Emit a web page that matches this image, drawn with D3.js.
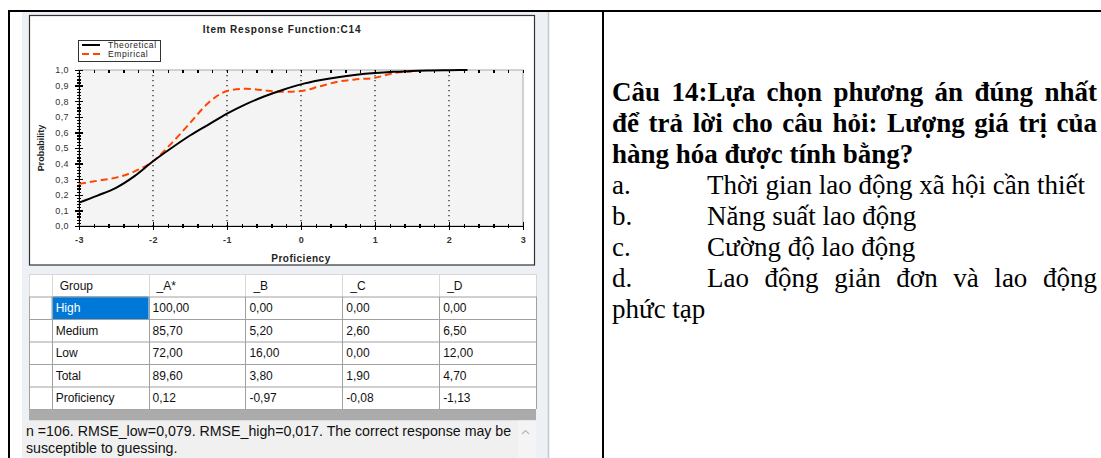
<!DOCTYPE html>
<html>
<head>
<meta charset="utf-8">
<script src="https://cdn.jsdelivr.net/npm/d3@7"></script>
<style>
  body { margin: 0; width: 1101px; height: 458px; overflow: hidden; background: #fff; position: relative; }
  svg { position: absolute; left: 0; top: 0; }
  .axis path, .axis line { stroke: #000; shape-rendering: crispEdges; }
  .axis text { font-family: Arial, "Liberation Sans", sans-serif; font-size: 9px; fill: #333; letter-spacing: 0.4px; }
  .chart-text { font-family: Arial, "Liberation Sans", sans-serif; fill: #222; }
  .table-text { font-family: Arial, "Liberation Sans", sans-serif; font-size: 12px; fill: #111; }
  #question { position: absolute; left: 612px; top: 77px; width: 485px;
              font-family: "Liberation Serif", "Times New Roman", serif; font-size: 27px; line-height: 31px; color: #000; }
  #question .just { text-align: justify; text-align-last: justify; }
  #question .lbl { display: inline-block; width: 95px; }
</style>
</head>
<body>
<div id="question">
  <div class="just"><b>Câu 14:Lựa chọn phương án đúng nhất</b></div>
  <div class="just"><b>để trả lời cho câu hỏi: Lượng giá trị của</b></div>
  <div><b>hàng hóa được tính bằng?</b></div>
  <div><span class="lbl">a.</span>Thời gian lao động xã hội cần thiết</div>
  <div><span class="lbl">b.</span>Năng suất lao động</div>
  <div><span class="lbl">c.</span>Cường độ lao động</div>
  <div class="just"><span class="lbl">d.</span>Lao động giản đơn và lao động</div>
  <div>phức tạp</div>
</div>
<script>
const W = 1101, H = 458;

// Chart data
const xTicks = [-3, -2, -1, 0, 1, 2, 3],
      yTicks = [0, 0.1, 0.2, 0.3, 0.4, 0.5, 0.6, 0.7, 0.8, 0.9, 1.0],
      gridX = [-2, -1, 0, 1, 2];

const theoX = [-3, -2.75, -2.5, -2.25, -2, -1.75, -1.5, -1.25, -1, -0.75, -0.5, -0.25, 0, 0.25, 0.5, 0.75, 1, 1.25, 1.5, 1.75, 2, 2.25],
      theoY = [0.15, 0.195, 0.245, 0.32, 0.415, 0.5, 0.58, 0.65, 0.72, 0.78, 0.83, 0.872, 0.908, 0.934, 0.954, 0.969, 0.98, 0.988, 0.994, 0.997, 0.999, 1.0];

const empX = [-3, -2.75, -2.5, -2.25, -2, -1.75, -1.5, -1.25, -1, -0.75, -0.5, -0.25, 0, 0.25, 0.5, 0.75, 1, 1.25, 1.5],
      empY = [0.27, 0.29, 0.31, 0.35, 0.415, 0.53, 0.66, 0.79, 0.865, 0.88, 0.87, 0.86, 0.865, 0.895, 0.925, 0.94, 0.95, 0.98, 0.99];

// Table data
const groups = ["High", "Medium", "Low", "Total", "Proficiency"],
      options = ["_A*", "_B", "_C", "_D"],
      optA = [100.00, 85.70, 72.00, 89.60, 0.12],
      optB = [0.00, 5.20, 16.00, 3.80, -0.97],
      optC = [0.00, 2.60, 0.00, 1.90, -0.08],
      optD = [0.00, 6.50, 12.00, 4.70, -1.13];

const note = ["n =106. RMSE_low=0,079. RMSE_high=0,017. The correct response may be",
              "susceptible to guessing."];

const locale = d3.formatLocale({decimal: ",", thousands: ".", grouping: [3], currency: ["", ""], minus: "-"});
const fmt1 = locale.format(".1f"),
      fmt2 = locale.format(".2f"),
      fmtInt = locale.format("d");

const svg = d3.select("body").insert("svg", ":first-child")
              .attr("width", W)
              .attr("height", H);

// Panel backgrounds
svg.append("rect").attr("x", 22).attr("y", 12).attr("width", 526).attr("height", H - 12).attr("fill", "#edf1f6");
svg.append("line").attr("x1", 548.5).attr("x2", 548.5).attr("y1", 12).attr("y2", H)
   .attr("stroke", "#c4c8cc").attr("stroke-width", 1.5);

// Chart frame
svg.append("rect").attr("x", 29.5).attr("y", 15.5).attr("width", 505).attr("height", 249.5)
   .attr("fill", "#fff").attr("stroke", "#333").attr("stroke-width", 1.2);

// Scales
let x = d3.scaleLinear().domain([-3, 3]).range([79, 523]);
let y = d3.scaleLinear().domain([0, 1]).range([226, 70]);

let chart = svg.append("g");

// Plot background
chart.append("rect")
     .attr("x", x(-3)).attr("y", y(1))
     .attr("width", x(3) - x(-3)).attr("height", y(0) - y(1))
     .attr("fill", "#f4f4f4").attr("stroke", "#a8a8a8");

// Dotted vertical grid
chart.selectAll(".grid")
     .data(gridX)
     .enter().append("line")
     .attr("class", "grid")
     .attr("x1", (d) => x(d)).attr("x2", (d) => x(d))
     .attr("y1", y(1)).attr("y2", y(0))
     .attr("stroke", "#000").attr("stroke-width", 1.1)
     .attr("stroke-dasharray", "1.2,3.8");

// Top minor ticks
chart.append("g")
     .attr("class", "axis")
     .attr("transform", "translate(0," + y(1) + ")")
     .call(d3.axisBottom(x).tickValues(x.ticks(30)).tickSize(3).tickFormat(""))
     .call((g) => g.select(".domain").remove());

// y axis: minor ticks both sides, major ticks both sides
chart.append("g").attr("class", "axis").attr("transform", "translate(" + x(-3) + ",0)")
     .call(d3.axisLeft(y).tickValues(y.ticks(50)).tickSize(2).tickFormat(""));
chart.append("g").attr("class", "axis").attr("transform", "translate(" + x(-3) + ",0)")
     .call(d3.axisRight(y).tickValues(y.ticks(50)).tickSize(2).tickFormat(""))
     .call((g) => g.select(".domain").remove());
chart.append("g").attr("class", "axis").attr("transform", "translate(" + x(-3) + ",0)")
     .call(d3.axisRight(y).tickValues(yTicks).tickSize(4).tickFormat(""))
     .call((g) => g.select(".domain").remove());
chart.append("g").attr("class", "axis").attr("id", "y-axis")
     .attr("transform", "translate(" + x(-3) + ",0)")
     .call(d3.axisLeft(y).tickValues(yTicks).tickSizeInner(4).tickSizeOuter(0).tickPadding(6).tickFormat(fmt1));

// x axis: minor and major ticks crossing the line
chart.append("g").attr("class", "axis").attr("transform", "translate(0," + y(0) + ")")
     .call(d3.axisTop(x).tickValues(x.ticks(30)).tickSize(2).tickFormat(""))
     .call((g) => g.select(".domain").remove());
chart.append("g").attr("class", "axis").attr("transform", "translate(0," + y(0) + ")")
     .call(d3.axisBottom(x).tickValues(x.ticks(30)).tickSize(2).tickFormat(""));
chart.append("g").attr("class", "axis").attr("transform", "translate(0," + y(0) + ")")
     .call(d3.axisTop(x).tickValues(xTicks).tickSize(4).tickFormat(""))
     .call((g) => g.select(".domain").remove());
chart.append("g").attr("class", "axis").attr("id", "x-axis")
     .attr("transform", "translate(0," + y(0) + ")")
     .call(d3.axisBottom(x).tickValues(xTicks).tickSizeInner(4).tickSizeOuter(0).tickPadding(6.5).tickFormat(fmtInt))
     .selectAll("text").style("font-weight", "bold");

chart.selectAll(".axis line").attr("stroke-width", 1.3);
chart.selectAll(".axis .domain").attr("stroke-width", 1.6);

// Curves
let line = d3.line().curve(d3.curveMonotoneX)
             .x((d) => x(d[0]))
             .y((d) => y(d[1]));

chart.append("path")
     .datum(empX.map((d, i) => [d, empY[i]]))
     .attr("d", line)
     .attr("fill", "none")
     .attr("stroke", "#ff4500")
     .attr("stroke-width", 2)
     .attr("stroke-dasharray", "7,4");

chart.append("path")
     .datum(theoX.map((d, i) => [d, theoY[i]]))
     .attr("d", line)
     .attr("fill", "none")
     .attr("stroke", "#000")
     .attr("stroke-width", 2);

// Title
chart.append("text")
     .attr("class", "chart-text")
     .attr("x", 282).attr("y", 33)
     .attr("text-anchor", "middle")
     .style("font-size", "10px").style("font-weight", "bold").style("letter-spacing", "0.8px")
     .text("Item Response Function:C14");

// Axis labels
chart.append("text")
     .attr("class", "chart-text")
     .attr("x", x(0)).attr("y", 262)
     .attr("text-anchor", "middle")
     .style("font-size", "10px").style("font-weight", "bold").style("letter-spacing", "0.5px")
     .text("Proficiency");

chart.append("text")
     .attr("class", "chart-text")
     .attr("transform", "translate(44," + ((y(0) + y(1)) / 2) + ") rotate(-90)")
     .attr("text-anchor", "middle")
     .style("font-size", "9px").style("font-weight", "bold")
     .text("Probability");

// Legend
let legend = chart.append("g").attr("transform", "translate(78,40)");
legend.append("rect").attr("x", 0.5).attr("y", 0.5).attr("width", 82).attr("height", 21)
      .attr("fill", "#fff").attr("stroke", "#333");
legend.append("line").attr("x1", 4).attr("x2", 22).attr("y1", 5).attr("y2", 5)
      .attr("stroke", "#000").attr("stroke-width", 2);
legend.append("line").attr("x1", 4).attr("x2", 22).attr("y1", 14).attr("y2", 14)
      .attr("stroke", "#ff4500").attr("stroke-width", 2).attr("stroke-dasharray", "7,4");
legend.selectAll(".legend-text")
      .data(["Theoretical", "Empirical"])
      .enter().append("text")
      .attr("class", "chart-text legend-text")
      .attr("x", 30).attr("y", (d, i) => 8 + i * 9)
      .style("font-size", "8.5px").style("letter-spacing", "0.6px")
      .text((d) => d);

// Table
let cols = d3.scaleBand().domain(["Group"].concat(options)).range([51.7, 536]);
let rows = d3.scaleBand().domain(["header"].concat(groups)).range([274, 409]);
let colValues = [optA, optB, optC, optD];

let table = svg.append("g");
table.append("rect").attr("x", 29).attr("y", 274).attr("width", 536 - 29).attr("height", 409 - 274).attr("fill", "#fff");

// selected cell
table.append("rect")
     .attr("x", cols("Group")).attr("y", rows("High"))
     .attr("width", cols.bandwidth()).attr("height", rows.bandwidth())
     .attr("fill", "#0078d7");

// grid lines
table.selectAll(".hline")
     .data(rows.domain().concat(["end"]))
     .enter().append("line")
     .attr("x1", 29).attr("x2", 536)
     .attr("y1", (d, i) => 274 + i * rows.bandwidth() + 0.5)
     .attr("y2", (d, i) => 274 + i * rows.bandwidth() + 0.5)
     .attr("stroke", (d, i) => i === 0 ? "#d8d8d8" : "#a0a0a0");
table.selectAll(".vline")
     .data([29].concat(cols.domain().map((d) => cols(d)), [536]))
     .enter().append("line")
     .attr("x1", (d) => Math.round(d) + 0.5).attr("x2", (d) => Math.round(d) + 0.5)
     .attr("y1", 274).attr("y2", 409)
     .attr("stroke", "#a0a0a0");
table.selectAll(".vline-head")
     .data([29].concat(cols.domain().map((d) => cols(d)), [536]))
     .enter().append("line")
     .attr("x1", (d) => Math.round(d) + 0.5).attr("x2", (d) => Math.round(d) + 0.5)
     .attr("y1", 274).attr("y2", 274 + rows.bandwidth())
     .attr("stroke", "#d8d8d8");

// header text
table.selectAll(".head")
     .data(["Group"].concat(options))
     .enter().append("text")
     .attr("class", "table-text")
     .attr("x", (d) => cols(d) + 8)
     .attr("y", rows("header") + rows.bandwidth() / 2 + 4.5)
     .text((d) => d);

// group names
table.selectAll(".grp")
     .data(groups)
     .enter().append("text")
     .attr("class", "table-text")
     .attr("x", cols("Group") + 4)
     .attr("y", (d) => rows(d) + rows.bandwidth() / 2 + 4.5)
     .style("fill", (d) => d === "High" ? "#fff" : "#111")
     .text((d) => d);

// values
colValues.forEach((vals, c) => {
  table.selectAll(".val" + c)
       .data(vals)
       .enter().append("text")
       .attr("class", "table-text")
       .attr("x", cols(options[c]) + 4)
       .attr("y", (d, i) => rows(groups[i]) + rows.bandwidth() / 2 + 4.5)
       .text((d) => fmt2(d));
});

// grey bar under table
table.append("rect").attr("x", 29).attr("y", 409.5).attr("width", 536 - 29).attr("height", 11).attr("fill", "#ababab");

// note area
svg.append("rect").attr("x", 22).attr("y", 420.5).attr("width", 514).attr("height", H - 420.5).attr("fill", "#f0f0f0");
svg.append("rect").attr("x", 518).attr("y", 420.5).attr("width", 18).attr("height", H - 420.5).attr("fill", "#f4f4f4");
svg.append("polyline").attr("points", "522,434 525.5,430.5 529,434")
   .attr("fill", "none").attr("stroke", "#b8b8b8").attr("stroke-width", 1.2);
svg.selectAll(".note")
   .data(note)
   .enter().append("text")
   .attr("x", 26)
   .attr("y", (d, i) => 436 + i * 17)
   .style("font-family", "Arial, 'Liberation Sans', sans-serif")
   .style("font-size", "14.2px")
   .style("fill", "#111")
   .text((d) => d);

// Table borders (document table)
svg.append("line").attr("x1", 8).attr("x2", W).attr("y1", 11).attr("y2", 11).attr("stroke", "#000").attr("stroke-width", 2);
svg.append("line").attr("x1", 9).attr("x2", 9).attr("y1", 10).attr("y2", H).attr("stroke", "#000").attr("stroke-width", 2);
svg.append("line").attr("x1", 603).attr("x2", 603).attr("y1", 10).attr("y2", H).attr("stroke", "#000").attr("stroke-width", 2);
</script>
</body>
</html>
